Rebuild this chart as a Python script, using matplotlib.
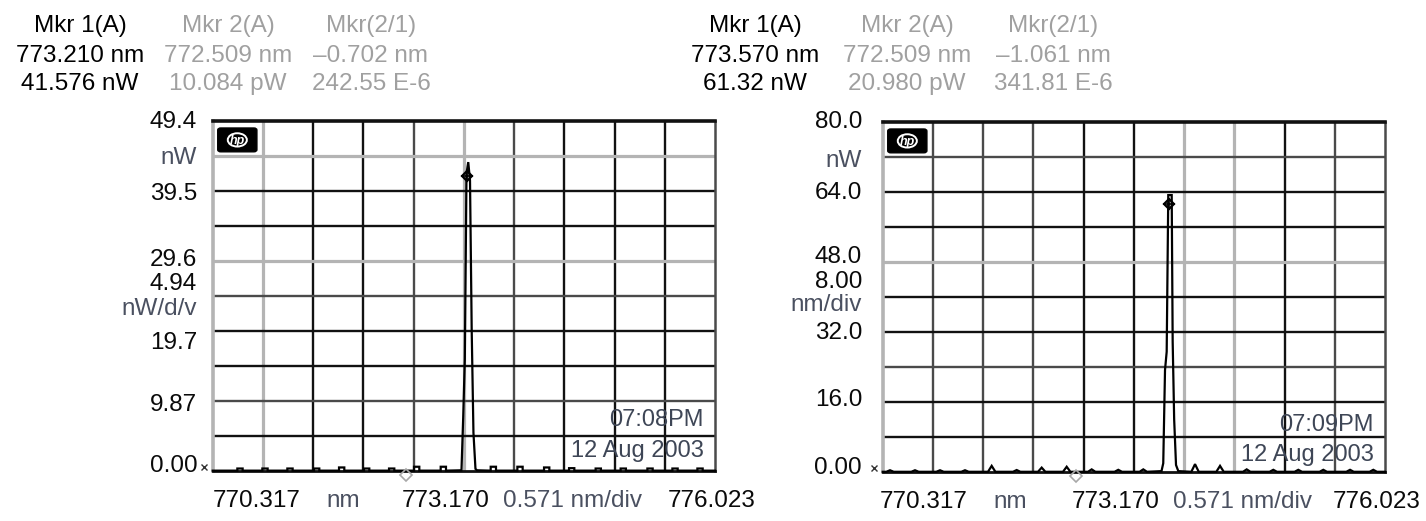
import matplotlib
matplotlib.use("Agg")
import matplotlib.pyplot as plt
from matplotlib.patches import FancyBboxPatch, Circle

plt.rcParams['font.family'] = ['Liberation Sans', 'DejaVu Sans']

# ---------------- data ----------------
x_start, x_center, x_stop = 770.317, 773.170, 776.023
x_labels = ["770.317", "nm", "773.170", "0.571 nm/div", "776.023"]

# panel 1
p1_ymax = 49.4
p1_ylabels = ["49.4", "nW", "39.5", "29.6", "4.94", "nW/d/v", "19.7", "9.87", "0.00"]
p1_header = [["Mkr 1(A)", "773.210 nm", "41.576 nW"],
             ["Mkr 2(A)", "772.509 nm", "10.084 pW"],
             ["Mkr(2/1)", "\u20130.702 nm", "242.55 E-6"]]
p1_time = ["07:08PM", "12 Aug 2003"]
p1_mkr1 = (773.210, 41.576)
p1_mkr2 = (772.509, 0.010)
p1_spike_wl = [773.143, 773.163, 773.181, 773.200, 773.220, 773.240, 773.259, 773.279, 773.302, 773.319]
p1_spike_pw = [0.1, 7.7, 15.8, 42.0, 43.6, 41.0, 20.0, 5.4, 0.3, 0.1]
p1_bump_wl = [770.627, 770.911, 771.195, 771.498, 771.782, 772.066, 772.350, 772.634, 772.937,
              773.505, 773.808, 774.111, 774.395, 774.697, 774.981, 775.285, 775.569, 775.853]
p1_bump_pw = [0.35, 0.35, 0.35, 0.35, 0.5, 0.35, 0.35, 0.6, 0.6,
              0.6, 0.6, 0.5, 0.4, 0.35, 0.35, 0.35, 0.35, 0.35]

# panel 2
p2_ymax = 80.0
p2_ylabels = ["80.0", "nW", "64.0", "48.0", "8.00", "nm/div", "32.0", "16.0", "0.00"]
p2_header = [["Mkr 1(A)", "773.570 nm", "61.32 nW"],
             ["Mkr 2(A)", "772.509 nm", "20.980 pW"],
             ["Mkr(2/1)", "\u20131.061 nm", "341.81 E-6"]]
p2_time = ["07:09PM", "12 Aug 2003"]
p2_mkr1 = (773.570, 61.32)
p2_mkr2 = (772.509, 0.021)
p2_spike_wl = [773.484, 773.504, 773.524, 773.543, 773.561, 773.600, 773.611, 773.628, 773.649, 773.675]
p2_spike_pw = [0.2, 2.0, 23.3, 27.5, 63.3, 63.3, 29.8, 12.0, 1.6, 0.2]
p2_bump_wl = [770.400, 770.684, 770.968, 771.252, 771.555, 771.839, 772.123, 772.407, 772.691,
              772.993, 773.277, 773.865, 774.149, 774.452, 774.754, 775.038, 775.322, 775.626, 775.890]
p2_bump_pw = [0.4, 0.4, 0.4, 0.4, 1.4, 0.45, 1.0, 1.2, 0.6,
              0.5, 0.6, 1.8, 1.4, 0.6, 0.5, 0.5, 0.5, 0.5, 0.5]

# ---------------- style ----------------
K, D, L = '#111111', '#4a4a4a', '#b4b4b4'
p1_vcol = [L, K, K, D, L, D, K, K, K]
p1_hcol = [K, D, K, K, D, L, K, K, L]   # from bottom (1st interior line) upward
p2_vcol = [D, D, D, K, K, L, L, K, D]
p2_hcol = [K, K, D, K, K, L, K, K, D]
unit_col = '#4a5060'
val_col = '#0a0a0a'
gray_hdr = '#a0a0a0'

W, H = 1426, 521
fig = plt.figure(figsize=(W / 100, H / 100), dpi=100)
fig.patch.set_facecolor('white')


def build_trace(bwl, bpw, swl, spw, shape):
    pts = [(x_start, 0.05)]
    items = [(w, 'b', p) for w, p in zip(bwl, bpw)]
    items.append((swl[0], 's', None))
    items.sort(key=lambda t: t[0])
    hw = 0.03
    for w, kind, p in items:
        if kind == 's':
            pts += list(zip(swl, spw))
        else:
            if shape == 'box':
                pts += [(w - hw, 0.05), (w - hw, p), (w + hw, p), (w + hw, 0.05)]
            else:
                pts += [(w - hw * 1.4, 0.05), (w, p), (w + hw * 1.4, 0.05)]
    pts.append((x_stop, 0.05))
    return [a for a, b in pts], [b for a, b in pts]


def panel(rect, ymax, ylabels, yl_pos, yl_x, vcol, hcol, bwl, bpw, swl, spw, shape,
          mkr1, mkr2, header, hdr_x, time, time_pos, xl_pos):
    ax = fig.add_axes(rect)
    ax.set_xlim(x_start, x_stop)
    ax.set_ylim(0, ymax)
    ax.set_xticks([]); ax.set_yticks([])
    dx = (x_stop - x_start) / 10
    dy = ymax / 10
    for i, c in enumerate(vcol):
        ax.axvline(x_start + (i + 1) * dx, color=c, lw=2.3 if c == L else 1.7, zorder=1)
    for i, c in enumerate(hcol):
        ax.axhline((i + 1) * dy, color=c, lw=2.3 if c == L else 1.7, zorder=1)
    for s, c, lw in [('top', K, 2.6), ('bottom', K, 2.0), ('left', L, 2.6), ('right', D, 1.8)]:
        ax.spines[s].set_color(c); ax.spines[s].set_linewidth(lw)

    tx, ty = build_trace(bwl, bpw, swl, spw, shape)
    ax.plot(tx, ty, color='#000000', lw=1.6, zorder=3, clip_on=False, solid_joinstyle='miter')

    ax.plot([mkr1[0]], [mkr1[1]], marker='D', ms=5, mfc='none', mec='#000000', mew=1.6, zorder=4)
    ax.plot([mkr1[0]], [mkr1[1]], marker='+', ms=9, mec='#000000', mew=1.2, zorder=4)
    ax.plot([mkr2[0]], [mkr2[1] - dy * 0.12], marker='D', ms=6, mfc='none', mec='#a8a8a8',
            mew=1.2, zorder=4, clip_on=False)
    ax.plot([-0.018], [0.012], marker='x', ms=4, mec='#333333', mew=1.0,
            transform=ax.transAxes, clip_on=False, zorder=4)

    # hp logo
    ax.add_patch(FancyBboxPatch((0.010, 0.912), 0.078, 0.068, boxstyle='round,pad=0,rounding_size=0.006',
                                transform=ax.transAxes, facecolor='black', edgecolor='black', zorder=5))
    ax.add_patch(Circle((0.049, 0.946), 0.019, transform=ax.transAxes, facecolor='none',
                        edgecolor='white', lw=1.4, zorder=6))
    ax.text(0.049, 0.944, 'hp', transform=ax.transAxes, color='white', fontsize=9,
            fontweight='bold', style='italic', ha='center', va='center', zorder=7)

    # y labels
    for lab, yp in zip(ylabels, yl_pos):
        is_val = lab[0].isdigit()
        ax.text(yl_x, yp, lab, transform=ax.transAxes, ha='right', va='center',
                fontsize=17.5, color=val_col if is_val else unit_col)

    # x labels
    for (lab, (xp, ha)) in zip(x_labels, xl_pos):
        is_val = lab[0].isdigit() and 'div' not in lab
        ax.text(xp, -0.085, lab, transform=ax.transAxes, ha=ha, va='center', fontsize=17.5,
                color=val_col if is_val else unit_col)

    # time
    for lab, yp in zip(time, time_pos):
        ax.text(0.978, yp, lab, transform=ax.transAxes, ha='right', va='center', fontsize=17,
                color='#3e4656', zorder=6)

    # header
    rows_y = [26, 56, 84]
    for ci, col in enumerate(header):
        for ri, lab in enumerate(col):
            fig.text(hdr_x[ci] / W, 1 - rows_y[ri] / H, lab, ha='center', va='center',
                     fontsize=17.5, color='#000000' if ci == 0 else gray_hdr)
    return ax


p1_ylpos = [0.997, 0.894, 0.791, 0.603, 0.534, 0.463, 0.366, 0.189, 0.014]
p2_ylpos = [1.0, 0.889, 0.797, 0.614, 0.543, 0.477, 0.397, 0.206, 0.011]
xl_pos = [(0.0, 'left'), (0.226, 'left'), (0.552, 'right'), (0.577, 'left'), (1.08, 'right')]

panel([212.7 / W, (H - 471) / H, 502.3 / W, 350 / H], p1_ymax, p1_ylabels, p1_ylpos, -0.031,
      p1_vcol, p1_hcol, p1_bump_wl, p1_bump_pw, p1_spike_wl, p1_spike_pw, 'box',
      p1_mkr1, p1_mkr2, p1_header, [80, 228, 371], p1_time, [0.146, 0.057], xl_pos)

xl_pos2 = [(-0.005, 'left'), (0.22, 'left'), (0.552, 'right'), (0.577, 'left'), (1.07, 'right')]
panel([882.7 / W, (H - 472) / H, 502.3 / W, 350 / H], p2_ymax, p2_ylabels, p2_ylpos, -0.041,
      p2_vcol, p2_hcol, p2_bump_wl, p2_bump_pw, p2_spike_wl, p2_spike_pw, 'tri',
      p2_mkr1, p2_mkr2, p2_header, [755, 907, 1053], p2_time, [0.134, 0.049], xl_pos2)

fig.savefig('out.png', dpi=100)
